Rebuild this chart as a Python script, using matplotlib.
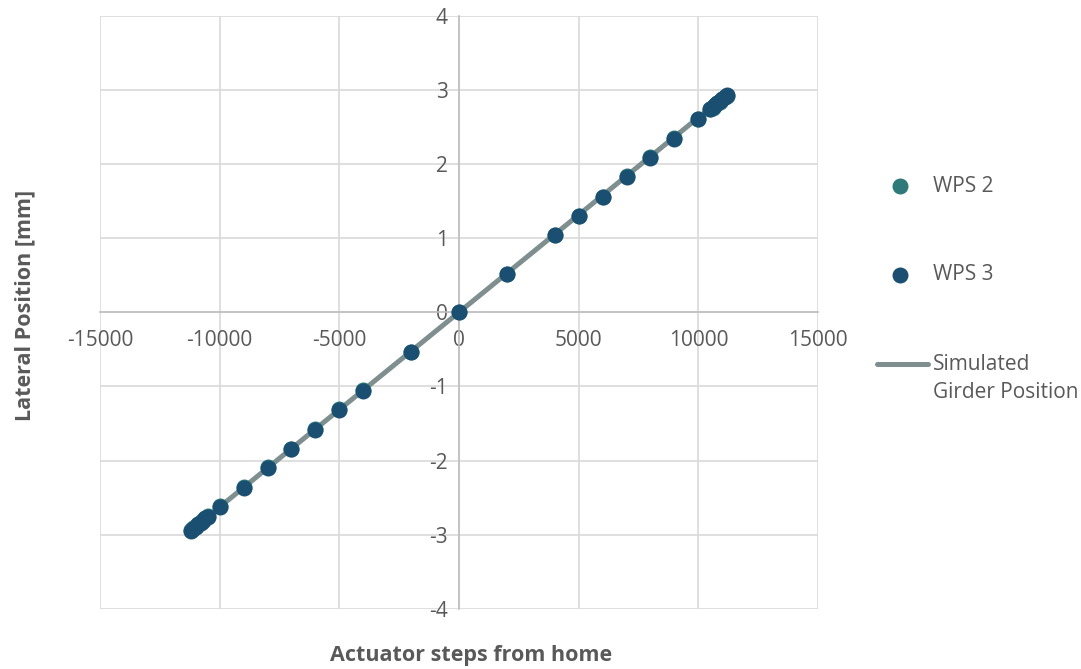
import matplotlib
matplotlib.use('Agg')
import matplotlib.pyplot as plt
from matplotlib.lines import Line2D

plt.rcParams['font.family'] = ['Open Sans', 'DejaVu Sans']
plt.rcParams['axes.unicode_minus'] = False

# actuator steps from home for each measurement
steps = [-11200, -11100, -11000, -10900, -10800, -10700, -10600, -10500,
         -10000, -9000, -8000, -7000, -6000, -5000, -4000, -2000, 0,
         2000, 4000, 5000, 6000, 7000, 8000, 9000, 10000,
         10500, 10600, 10700, 10800, 10900, 11000, 11100, 11200]

wps2_mm = [-2.94, -2.91, -2.88, -2.85, -2.83, -2.80, -2.77, -2.75,
           -2.61, -2.35, -2.09, -1.84, -1.58, -1.31, -1.05, -0.53, 0.00,
           0.52, 1.04, 1.30, 1.56, 1.83, 2.09, 2.35, 2.61,
           2.74, 2.76, 2.79, 2.82, 2.84, 2.87, 2.90, 2.92]

wps3_mm = [-2.95, -2.92, -2.89, -2.86, -2.84, -2.81, -2.78, -2.76,
           -2.63, -2.37, -2.10, -1.85, -1.59, -1.32, -1.06, -0.53, 0.00,
           0.52, 1.04, 1.30, 1.56, 1.82, 2.08, 2.34, 2.61,
           2.74, 2.77, 2.79, 2.82, 2.85, 2.87, 2.90, 2.93]

sim_steps = [-11200, 11200]
sim_mm = [-2.94, 2.94]

x_ticks = [-15000, -10000, -5000, 0, 5000, 10000, 15000]
y_ticks = [-4, -3, -2, -1, 0, 1, 2, 3, 4]

text_col = '#595959'
grid_col = '#d9d9d9'
wps2_col = '#2e7a7a'
wps3_col = '#1b4f72'
sim_col = '#7f8f8f'

W, H = 1081, 669
fig = plt.figure(figsize=(W / 100, H / 100), dpi=100)
ax = fig.add_axes([0.0925, 0.0897, 0.6642, 0.8871])

ax.plot(sim_steps, sim_mm, color=sim_col, linewidth=3.6,
        solid_capstyle='round', zorder=2)
ax.plot(steps, wps2_mm, 'o', color=wps2_col, markersize=10.5, zorder=3)
ax.plot(steps, wps3_mm, 'o', color=wps3_col, markersize=10.5, zorder=4)

ax.set_xlim(-15000, 15000)
ax.set_ylim(-4, 4)
ax.set_xticks(x_ticks)
ax.set_yticks(y_ticks)

ax.grid(True, color=grid_col, linewidth=1.2, zorder=0)
for gl in ax.get_xgridlines() + ax.get_ygridlines():
    gl.set_clip_on(False)

# axes cross at the origin
ax.spines['left'].set_position('zero')
ax.spines['bottom'].set_position('zero')
for s in ['left', 'bottom']:
    ax.spines[s].set_color('#bfbfbf')
    ax.spines[s].set_linewidth(1.2)
for s in ['top', 'right']:
    ax.spines[s].set_visible(False)

ax.tick_params(axis='both', length=0, labelsize=15, labelcolor=text_col)
ax.tick_params(axis='x', pad=13)
ax.tick_params(axis='y', pad=8)

fig.text(471 / W, 1 - 655 / H, 'Actuator steps from home', ha='center', va='center',
         fontsize=15.5, fontweight='bold', color=text_col)
fig.text(25 / W, 1 - 305 / H, 'Lateral Position [mm]', ha='center', va='center',
         rotation=90, fontsize=15.5, fontweight='bold', color=text_col)

# legend, laid out by hand in pixel positions
def px(x, y):
    return x / W, 1 - y / H

for col, lab, y in [(wps2_col, 'WPS 2', 186), (wps3_col, 'WPS 3', 275)]:
    fig.add_artist(Line2D([px(900, y)[0]], [px(900, y)[1]], marker='o',
                          linestyle='none', color=col, markersize=10.5))
    fig.text(*px(933, y), lab, ha='left', va='center', fontsize=15, color=text_col)

fig.add_artist(Line2D([px(877, 364)[0], px(928, 364)[0]],
                      [px(877, 364)[1], px(928, 364)[1]],
                      color=sim_col, linewidth=3.6, solid_capstyle='round'))
fig.text(*px(933, 364), 'Simulated', ha='left', va='center', fontsize=15, color=text_col)
fig.text(*px(933, 393), 'Girder Position', ha='left', va='center', fontsize=15, color=text_col)

fig.savefig('out.png', dpi=100)
